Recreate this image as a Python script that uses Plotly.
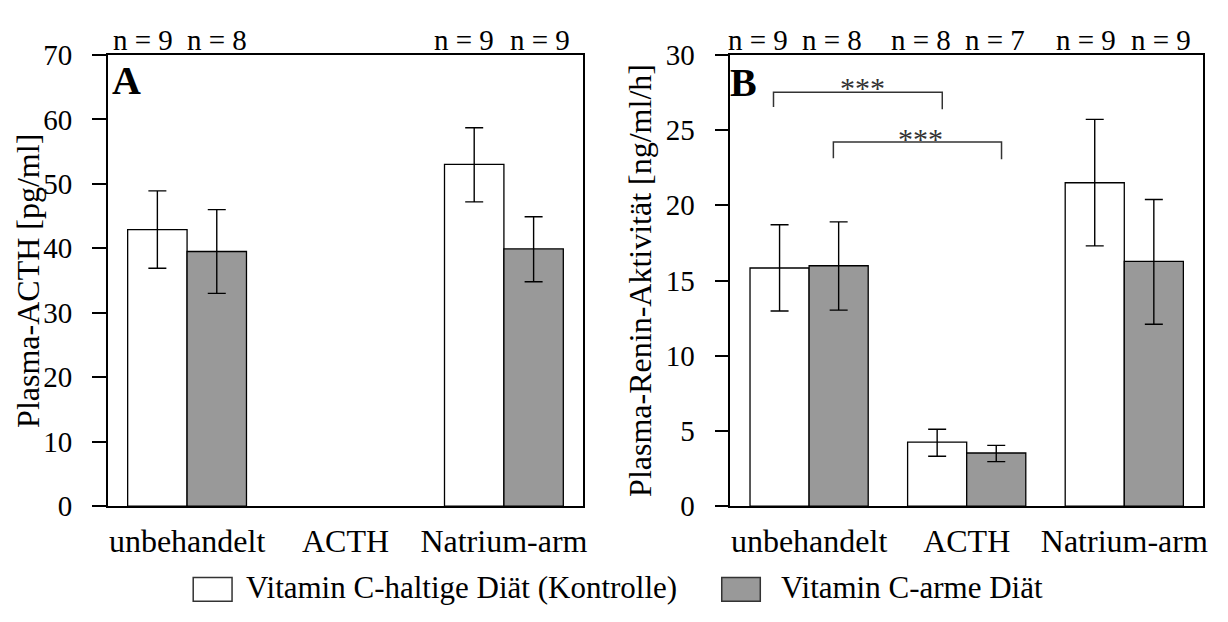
import plotly.graph_objects as go

# ---------------- data ----------------
categories = ["unbehandelt", "ACTH", "Natrium-arm"]
series_names = ["Vitamin C-haltige Diät (Kontrolle)", "Vitamin C-arme Diät"]

# Panel A: Plasma-ACTH [pg/ml]
acth_ctrl = [42.9, None, 53.0]
acth_ctrl_err_plus = [6.0, None, 5.7]
acth_ctrl_err_minus = [6.0, None, 5.8]
acth_low = [39.5, None, 39.9]
acth_low_err_plus = [6.5, None, 5.0]
acth_low_err_minus = [6.5, None, 5.1]
acth_n_labels = ["n = 9", "n = 8", "n = 9", "n = 9"]
acth_n_pos = [-0.28, 0.19, 1.75, 2.23]

# Panel B: Plasma-Renin-Aktivität [ng/ml/h]
renin_ctrl = [15.83, 4.25, 21.5]
renin_ctrl_err_plus = [2.88, 0.86, 4.21]
renin_ctrl_err_minus = [2.86, 0.93, 4.2]
renin_low = [15.98, 3.53, 16.27]
renin_low_err_plus = [2.92, 0.51, 4.12]
renin_low_err_minus = [2.95, 0.57, 4.18]
renin_n_labels = ["n = 9", "n = 8", "n = 8", "n = 7", "n = 9", "n = 9"]
renin_n_pos = [-0.325, 0.146, 0.712, 1.18, 1.755, 2.23]

# significance brackets (panel B): x_left, x_right, y_bar, y_drop_left, y_drop_right, label x, label y
sig_brackets = [
    (-0.226, 0.845, 27.52, 26.53, 26.38, 0.338, 27.86, "***"),
    (0.154, 1.221, 24.21, 23.12, 23.06, 0.705, 24.41, "***"),
]

acth_yticks = [0, 10, 20, 30, 40, 50, 60, 70]
renin_yticks = [0, 5, 10, 15, 20, 25, 30]

# ---------------- style ----------------
FONT = "Liberation Serif"
W, H = 1228, 622
WHITE = "#ffffff"
GREY = "#999999"

dom_a = [108.3 / W, 585.5 / W]
dom_b = [733.3 / W, 1208.0 / W]
dom_y = [1 - 516.7 / H, 1 - 41.0 / H]

fig = go.Figure()

xs = list(range(len(categories)))


def add_bars(xref, yref, vals, ep, em, color, name):
    fig.add_trace(go.Bar(
        x=xs, y=vals, name=name, xaxis=xref, yaxis=yref,
        marker=dict(color=color, line=dict(color="black", width=1.3)),
        error_y=dict(type="data", symmetric=False, array=ep, arrayminus=em,
                     color="black", thickness=1.4, width=9),
        showlegend=False,
    ))


add_bars("x", "y", acth_ctrl, acth_ctrl_err_plus, acth_ctrl_err_minus, WHITE, series_names[0])
add_bars("x", "y", acth_low, acth_low_err_plus, acth_low_err_minus, GREY, series_names[1])
add_bars("x2", "y2", renin_ctrl, renin_ctrl_err_plus, renin_ctrl_err_minus, WHITE, series_names[0])
add_bars("x2", "y2", renin_low, renin_low_err_plus, renin_low_err_minus, GREY, series_names[1])

xaxis_common = dict(
    range=[-0.5, 2.5], tickmode="array", tickvals=xs, ticktext=categories,
    showline=True, linecolor="black", linewidth=1.5, mirror=True,
    ticks="", showgrid=False, zeroline=False,
    tickfont=dict(family=FONT, size=32, color="black"),
    ticklabelstandoff=6,
)
yaxis_common = dict(
    showline=True, linecolor="black", linewidth=1.5, mirror=True,
    ticks="outside", ticklen=14, tickwidth=1.5, tickcolor="black",
    showgrid=False, zeroline=False,
    tickfont=dict(family=FONT, size=29, color="black"),
    ticklabelstandoff=14, domain=dom_y,
)

fig.update_layout(
    width=W, height=H,
    margin=dict(l=0, r=0, t=0, b=0),
    paper_bgcolor="white", plot_bgcolor="white",
    barmode="group", bargap=0.25, bargroupgap=0,
    font=dict(family=FONT, color="black"),
    xaxis=dict(domain=dom_a, anchor="y", **xaxis_common),
    xaxis2=dict(domain=dom_b, anchor="y2", **xaxis_common),
    yaxis=dict(range=[0, 70], tickvals=acth_yticks, anchor="x", **yaxis_common),
    yaxis2=dict(range=[0, 30], tickvals=renin_yticks, anchor="x2", **yaxis_common),
)

ann = []
# axis titles
ann.append(dict(text="Plasma-ACTH [pg/ml]", xref="paper", yref="paper",
                x=27.5 / W, y=(dom_y[0] + dom_y[1]) / 2, textangle=-90,
                showarrow=False, xanchor="center", yanchor="middle",
                font=dict(family=FONT, size=32, color="black")))
ann.append(dict(text="Plasma-Renin-Aktivität [ng/ml/h]", xref="paper", yref="paper",
                x=642 / W, y=(dom_y[0] + dom_y[1]) / 2, textangle=-90,
                showarrow=False, xanchor="center", yanchor="middle",
                font=dict(family=FONT, size=32, color="black")))
# panel letters
ann.append(dict(text="<b>A</b>", xref="paper", yref="paper", x=127.5 / W, y=1 - 67.5 / H,
                showarrow=False, xanchor="center", yanchor="middle",
                font=dict(family=FONT, size=40, color="black")))
ann.append(dict(text="<b>B</b>", xref="paper", yref="paper", x=747 / W, y=1 - 70 / H,
                showarrow=False, xanchor="center", yanchor="middle",
                font=dict(family=FONT, size=40, color="black")))
# n labels
for t, p in zip(acth_n_labels, acth_n_pos):
    ann.append(dict(text=t, xref="x", yref="paper", x=p, y=1 - 25.2 / H, showarrow=False,
                    xanchor="center", yanchor="middle",
                    font=dict(family=FONT, size=29, color="black")))
for t, p in zip(renin_n_labels, renin_n_pos):
    ann.append(dict(text=t, xref="x2", yref="paper", x=p, y=1 - 25.2 / H, showarrow=False,
                    xanchor="center", yanchor="middle",
                    font=dict(family=FONT, size=29, color="black")))

shapes = []
for x0, x1, yb, yl, yr, lx, ly, lab in sig_brackets:
    shapes.append(dict(type="path", xref="x2", yref="y2",
                       path=f"M {x0},{yl} L {x0},{yb} L {x1},{yb} L {x1},{yr}",
                       line=dict(color="#333333", width=1.5)))
    ann.append(dict(text=lab, xref="x2", yref="y2", x=lx, y=ly, showarrow=False,
                    xanchor="center", yanchor="middle",
                    font=dict(family=FONT, size=30, color="#333333")))

# legend (drawn manually to match the large swatches)
legend_items = [
    (194, 233, 245, WHITE),
    (724.7, 763.4, 782, GREY),
]
for (bx0, bx1, tx, col), name in zip(legend_items, series_names):
    shapes.append(dict(type="rect", xref="paper", yref="paper",
                       x0=bx0 / W, x1=bx1 / W, y0=1 - 617 / H, y1=1 - 592 / H,
                       fillcolor=col, line=dict(color="#333333", width=1.5)))
    ann.append(dict(text=name, xref="paper", yref="paper", x=tx / W, y=1 - 603 / H,
                    showarrow=False, xanchor="left", yanchor="middle",
                    font=dict(family=FONT, size=31, color="black")))

fig.update_layout(annotations=ann, shapes=shapes)

fig.write_html(
    "out.html",
    config={"displayModeBar": False},
    post_script="document.body.style.margin='0';document.body.style.overflow='hidden';",
)
